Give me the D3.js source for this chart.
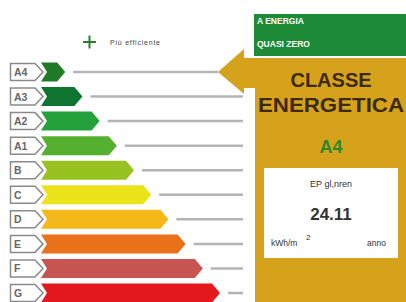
<!DOCTYPE html>
<html>
<head>
<meta charset="utf-8">
<script src="https://d3js.org/d3.v7.min.js"></script>
<style>
  body { margin: 0; background: #fff; }
  svg { display: block; font-family: "Liberation Sans", Arial, sans-serif; }
</style>
</head>
<body>
<script>
// energy classes, top (best) to bottom
const classes = ['A4', 'A3', 'A2', 'A1', 'B', 'C', 'D', 'E', 'F', 'G'];
const barLength = [1, 2, 3, 4, 5, 6, 7, 8, 9, 10];
const colors = ['#217a26', '#0e7430', '#24a13a', '#55b02f', '#98c21f', '#ede31a', '#f4b81a', '#e8711a', '#c65450', '#e3191d'];
const currentClass = 'A4';
const epValue = '24.11';

const width = 406, height = 302;
const svg = d3.select('body').append('svg').attr('width', width).attr('height', height);

const y = d3.scalePoint().domain(classes).range([72, 293]);
const x = d3.scaleLinear().domain([0, 10]).range([48, 220]);
const h = 9.5;

// "+ Più efficiente"
svg.append('path').attr('d', 'M83,42H96M89.5,35.5V48.5').attr('stroke', '#2d7a2d').attr('stroke-width', 2);
svg.append('text').attr('x', 110).attr('y', 44.5).attr('font-size', 7).attr('fill', '#444')
  .attr('textLength', 50).text('Più efficiente');

const rows = svg.append('g').selectAll('g').data(classes).enter().append('g')
  .attr('transform', d => `translate(0,${y(d)})`);

// gray lines
rows.append('line')
  .attr('x1', (d, i) => x(barLength[i]) + 8)
  .attr('x2', d => d === currentClass ? 218 : 243)
  .attr('stroke', '#b4b4b4').attr('stroke-width', 2.5);

// bars
rows.append('path')
  .attr('d', (d, i) => {
    const e = x(barLength[i]);
    return `M41,${-h}L${e - 8},${-h}L${e},0L${e - 8},${h}L41,${h}L47,0Z`;
  })
  .attr('fill', (d, i) => colors[i]);

// label tags
rows.append('path')
  .attr('d', `M10.5,-8.5L35,-8.5L43,0L35,8.5L10.5,8.5Z`)
  .attr('fill', '#fff').attr('stroke', '#8a8a8a').attr('stroke-width', 1.5);
rows.append('text').attr('x', 14).attr('y', 4).attr('font-size', 10.5).attr('font-weight', 'bold')
  .attr('fill', '#666').text(d => d);

// pointer arrow
const py = y(currentClass);
svg.append('path')
  .attr('d', `M218,${py}L244,${py - 23}L244,${py - 14}L256,${py - 14}L256,${py + 16}L244,${py + 16}L244,${py + 22}Z`)
  .attr('fill', '#d6a21c');

// green header
svg.append('rect').attr('x', 254).attr('y', 14).attr('width', 152).attr('height', 42).attr('fill', '#1d8a38');
svg.append('text').attr('x', 257).attr('y', 24).attr('font-size', 8.5).attr('font-weight', 'bold').attr('fill', '#fff').text('A ENERGIA');
svg.append('text').attr('x', 257).attr('y', 47).attr('font-size', 8.5).attr('font-weight', 'bold').attr('fill', '#fff').text('QUASI ZERO');

// gold panel
svg.append('rect').attr('x', 255).attr('y', 58).attr('width', 151).attr('height', 244).attr('fill', '#d6a21c');
svg.append('text').attr('x', 331).attr('y', 87).attr('text-anchor', 'middle').attr('font-size', 20).attr('font-weight', 'bold').attr('fill', '#3b2a0c').text('CLASSE');
svg.append('text').attr('x', 331).attr('y', 112).attr('text-anchor', 'middle').attr('font-size', 20).attr('font-weight', 'bold').attr('fill', '#3b2a0c')
  .attr('textLength', 146).attr('lengthAdjust', 'spacingAndGlyphs').text('ENERGETICA');
svg.append('text').attr('x', 331).attr('y', 153).attr('text-anchor', 'middle').attr('font-size', 18).attr('font-weight', 'bold').attr('fill', '#2c8a2c').text(currentClass);

svg.append('rect').attr('x', 264).attr('y', 168).attr('width', 134).attr('height', 90).attr('fill', '#fff');
svg.append('text').attr('x', 331).attr('y', 187).attr('text-anchor', 'middle').attr('font-size', 9).attr('fill', '#333').text('EP gl,nren');
svg.append('text').attr('x', 331).attr('y', 220).attr('text-anchor', 'middle').attr('font-size', 17).attr('font-weight', 'bold').attr('fill', '#333').text(epValue);
svg.append('text').attr('x', 271).attr('y', 246).attr('font-size', 8.5).attr('fill', '#333').text('kWh/m');
svg.append('text').attr('x', 306).attr('y', 240).attr('font-size', 8).attr('fill', '#333').text('2');
svg.append('text').attr('x', 386).attr('y', 246).attr('text-anchor', 'end').attr('font-size', 8.5).attr('fill', '#333').text('anno');
</script>
</body>
</html>
